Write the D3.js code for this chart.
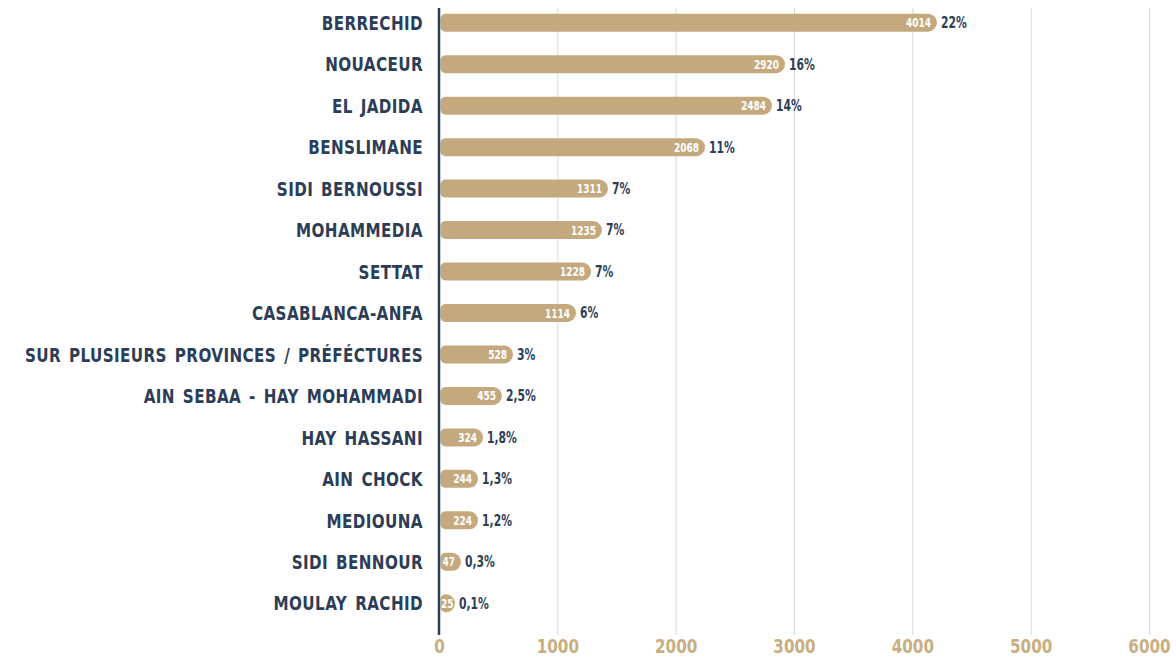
<!DOCTYPE html>
<html>
<head>
<meta charset="utf-8">
<script src="https://cdn.jsdelivr.net/npm/d3@7"></script>
<style>
  html, body { margin: 0; padding: 0; background: #fff; }
  svg { display: block; }
</style>
</head>
<body>
<svg id="chart" width="1176" height="657"></svg>
<script>
const categories = ["BERRECHID", "NOUACEUR", "EL JADIDA", "BENSLIMANE", "SIDI BERNOUSSI", "MOHAMMEDIA", "SETTAT", "CASABLANCA-ANFA", "SUR PLUSIEURS PROVINCES / PRÉFÉCTURES", "AIN SEBAA - HAY MOHAMMADI", "HAY HASSANI", "AIN CHOCK", "MEDIOUNA", "SIDI BENNOUR", "MOULAY RACHID"];
const values = [4014, 2920, 2484, 2068, 1311, 1235, 1228, 1114, 528, 455, 324, 244, 224, 47, 25];
const percents = ["22%", "16%", "14%", "11%", "7%", "7%", "7%", "6%", "3%", "2,5%", "1,8%", "1,3%", "1,2%", "0,3%", "0,1%"];
// visual bar lengths as drawn in the picture (data units)
const barLengths = [4208, 2924, 2814, 2248, 1428, 1377, 1285, 1158, 625, 532, 372, 330, 330, 186, 135];
const tickValues = [0, 1000, 2000, 3000, 4000, 5000, 6000];

const svg = d3.select("#chart");
const navy = "#2c3d57", tan = "#c3a97d", tickTan = "#c8ae80", grid = "#d6d9de";
const font = "'DejaVu Sans', sans-serif";

const x = d3.scaleLinear().domain([0, 6000]).range([439, 1149]);
const y = d3.scaleBand().domain(categories).range([2, 624]).paddingInner(0.56).paddingOuter(0.28);
const yc = c => y(c) + y.bandwidth() / 2;

// grid lines
svg.append("g").selectAll("line").data(tickValues.slice(1)).join("line")
  .attr("x1", d => x(d) + 0.5).attr("x2", d => x(d) + 0.5)
  .attr("y1", 8).attr("y2", 635)
  .attr("stroke", grid).attr("stroke-width", 1);

// x axis tick labels
const xAxis = d3.axisBottom(x).tickValues(tickValues).tickSize(0).tickFormat(d3.format("d"));
const gx = svg.append("g").attr("transform", "translate(0,653)").call(xAxis);
gx.select(".domain").remove();
gx.selectAll("text").attr("fill", tickTan).attr("font-family", font)
  .attr("font-weight", "bold").attr("font-size", 19)
  .attr("y", 0).attr("dy", 0)
  .attr("transform", "scale(0.8,1)");

// bars
function barPath(x0, x1, yc, h, rl, rr) {
  const t = yc - h / 2, b = yc + h / 2;
  return `M${x0 + rl},${t} L${x1 - rr},${t} A${rr},${rr} 0 0 1 ${x1},${t + rr} L${x1},${b - rr} A${rr},${rr} 0 0 1 ${x1 - rr},${b} L${x0 + rl},${b} A${rl},${rl} 0 0 1 ${x0},${b - rl} L${x0},${t + rl} A${rl},${rl} 0 0 1 ${x0 + rl},${t} Z`;
}
const bh = 18;
const rows = categories.map((c, i) => ({ c, v: values[i], p: percents[i], len: barLengths[i] }));

svg.append("g").selectAll("path").data(rows).join("path")
  .attr("d", d => barPath(x(0) + 1.5, x(d.len), yc(d.c), bh, 5, 9))
  .attr("fill", tan);

// value labels inside bars
const vs = 0.72;
svg.append("g").selectAll("text").data(rows).join("text")
  .attr("dy", "0.36em")
  .attr("text-anchor", "end")
  .attr("fill", "#fff").attr("font-family", font).attr("font-weight", "bold").attr("font-size", 12.5)
  .text(d => d.v)
  .attr("transform", function(d) {
    const w = this.getComputedTextLength() * vs;
    let right = x(d.len) - 6;
    if (right - w < x(0) + 2) right = Math.min(x(0) + 2 + w, x(d.len) - 1.5);
    return `translate(${right},${yc(d.c)}) scale(${vs},1)`;
  });

// percent labels
svg.append("g").selectAll("text").data(rows).join("text")
  .attr("transform", d => `translate(${x(d.len) + 4},${yc(d.c)}) scale(0.72,1)`)
  .attr("dy", "0.36em")
  .attr("fill", navy).attr("font-family", font).attr("font-weight", "bold").attr("font-size", 15)
  .text(d => d.p);

// category labels
svg.append("g").selectAll("text").data(rows).join("text")
  .attr("transform", d => `translate(423,${yc(d.c)}) scale(0.76,1)`)
  .attr("dy", "0.36em")
  .attr("text-anchor", "end")
  .attr("fill", navy).attr("font-family", font).attr("font-weight", "bold").attr("font-size", 20)
  .attr("letter-spacing", 0.5)
  .attr("word-spacing", 3)
  .text(d => d.c);

// y axis line
svg.append("line").attr("x1", x(0)).attr("x2", x(0)).attr("y1", 8).attr("y2", 635)
  .attr("stroke", navy).attr("stroke-width", 2.5);
</script>
</body>
</html>
